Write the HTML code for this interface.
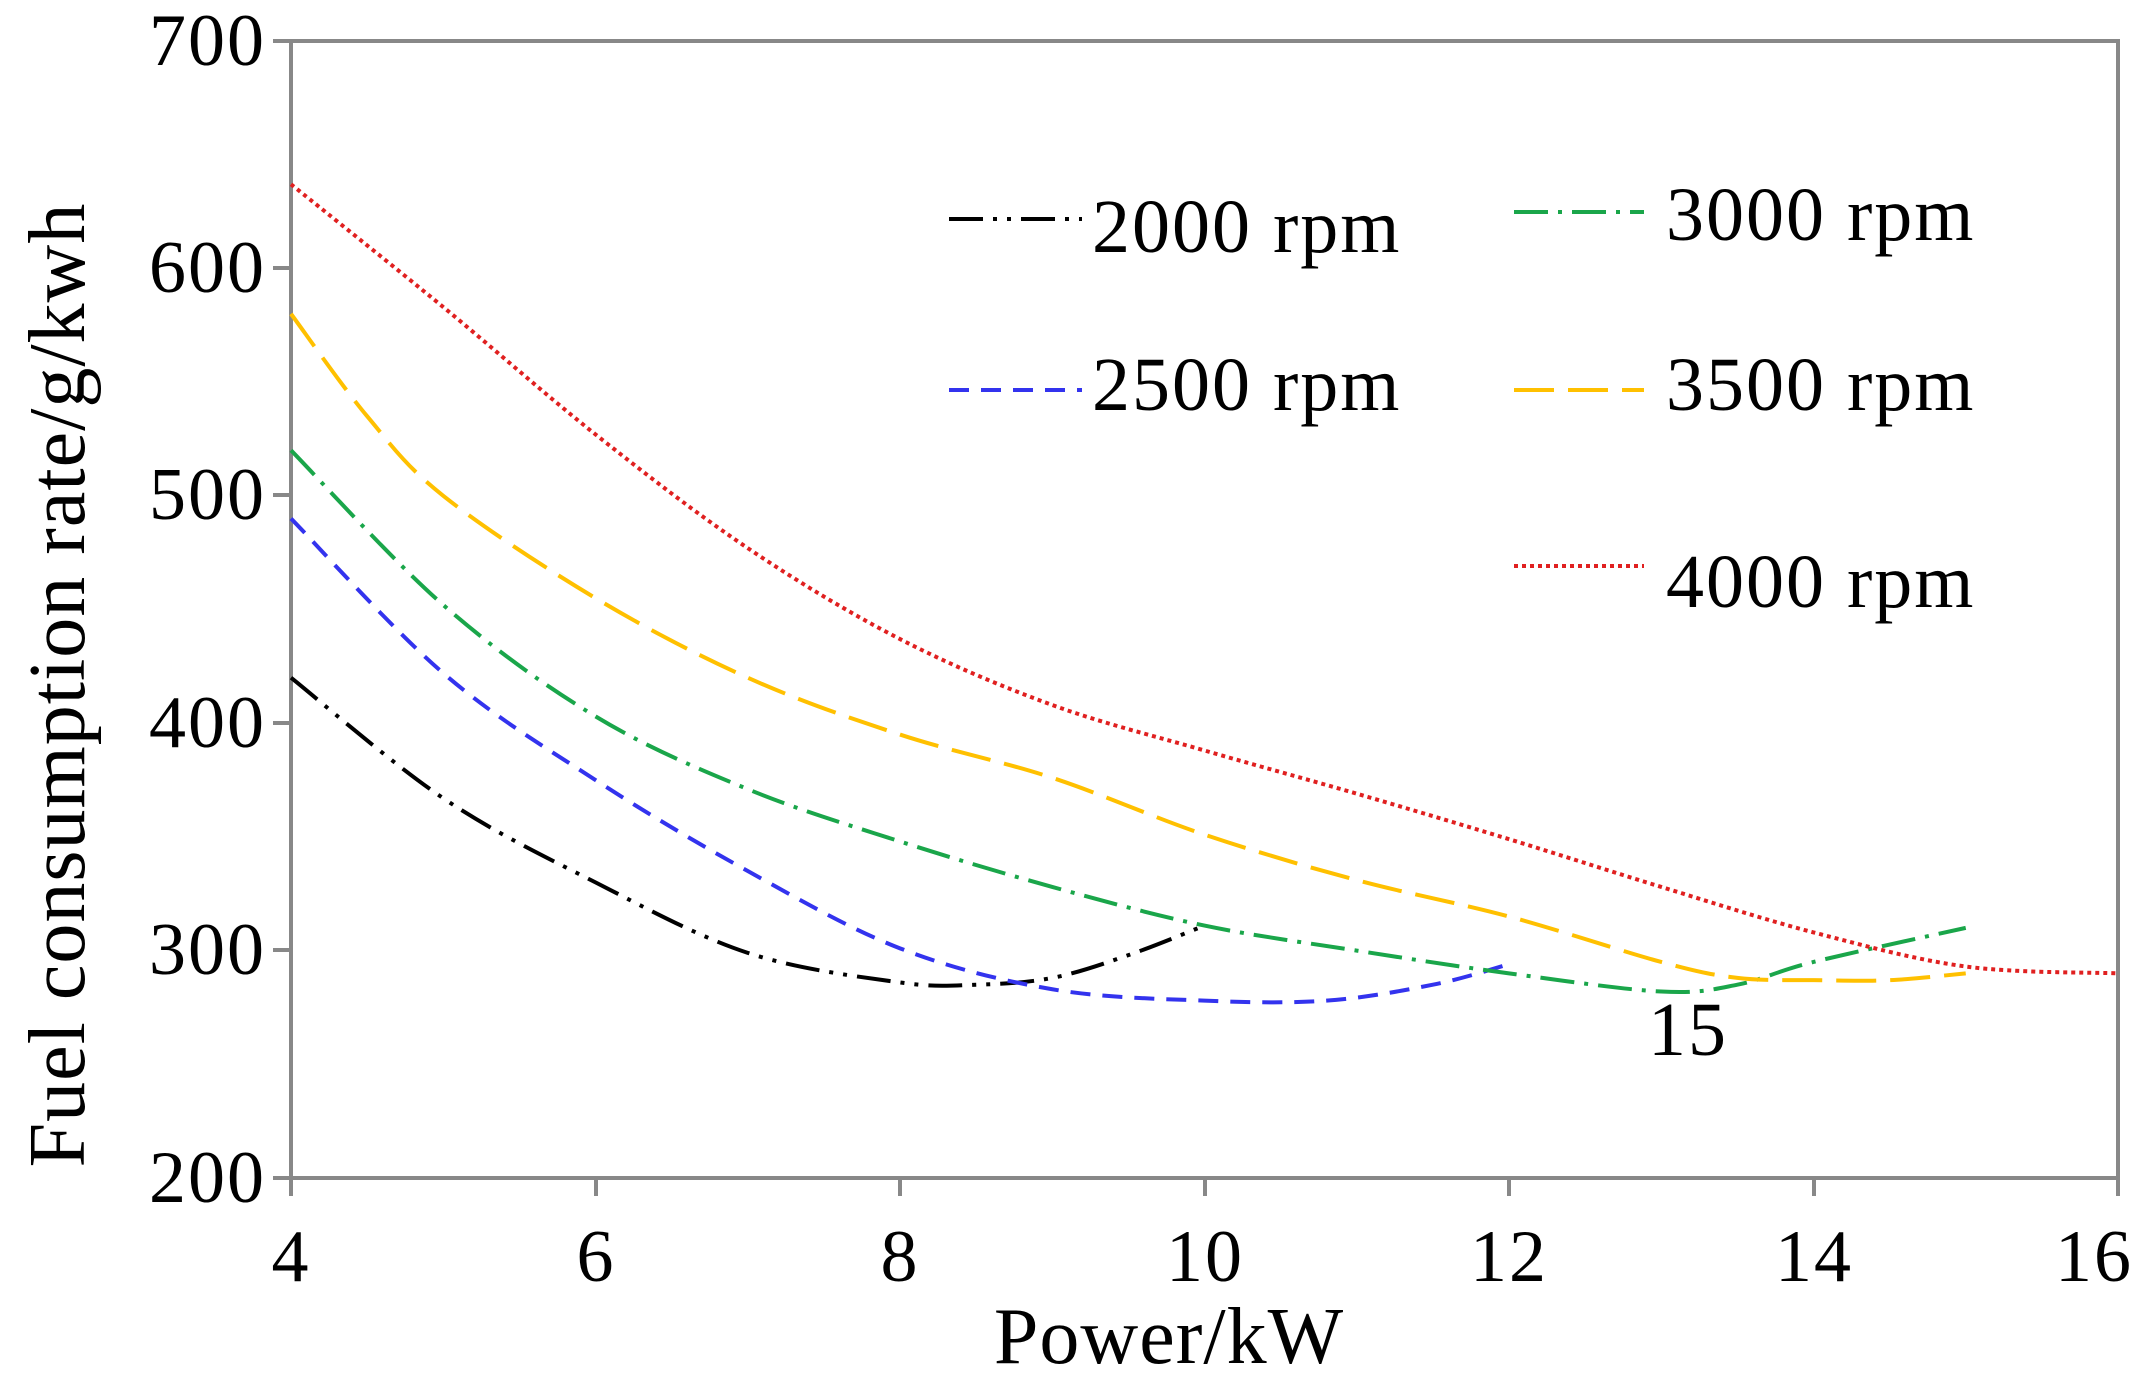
<!DOCTYPE html>
<html><head><meta charset="utf-8"><style>
html,body{margin:0;padding:0;background:#fff}
svg{display:block}
text{font-family:"Liberation Serif",serif;fill:#000}
</style></head><body>
<svg id="s" width="2148" height="1398" xmlns="http://www.w3.org/2000/svg">
<rect x="291" y="41" width="1827" height="1137" fill="none" stroke="#888" stroke-width="4"/>
<g stroke="#888" stroke-width="4">
<line x1="273" y1="1178" x2="291" y2="1178"/><line x1="273" y1="950" x2="291" y2="950"/><line x1="273" y1="723" x2="291" y2="723"/><line x1="273" y1="495" x2="291" y2="495"/><line x1="273" y1="268" x2="291" y2="268"/><line x1="273" y1="41" x2="291" y2="41"/>
<line x1="291" y1="1178" x2="291" y2="1196"/><line x1="596" y1="1178" x2="596" y2="1196"/><line x1="900" y1="1178" x2="900" y2="1196"/><line x1="1205" y1="1178" x2="1205" y2="1196"/><line x1="1509" y1="1178" x2="1509" y2="1196"/><line x1="1814" y1="1178" x2="1814" y2="1196"/><line x1="2118" y1="1178" x2="2118" y2="1196"/>
</g>
<g font-size="74" text-anchor="end" letter-spacing="2">
<text x="266" y="1202">200</text><text x="266" y="974">300</text><text x="266" y="747">400</text><text x="266" y="519">500</text><text x="266" y="292">600</text><text x="266" y="65">700</text>
</g>
<g font-size="74" text-anchor="middle" letter-spacing="2">
<text x="291" y="1281">4</text><text x="596" y="1281">6</text><text x="900" y="1281">8</text><text x="1205" y="1281">10</text><text x="1509" y="1281">12</text><text x="1814" y="1281">14</text><text x="2094" y="1281">16</text>
</g>
<g font-size="80" text-anchor="middle" letter-spacing="1">
<text x="1169" y="1363">Power/kW</text>
<text transform="translate(84,685) rotate(-90)">Fuel consumption rate/g/kwh</text>
</g>
<g font-size="76" letter-spacing="2">
<text x="1092" y="252">2000 rpm</text>
<text x="1092" y="410">2500 rpm</text>
<text x="1666" y="240">3000 rpm</text>
<text x="1666" y="410">3500 rpm</text>
<text x="1666" y="607">4000 rpm</text>
<text x="1648" y="1055">15</text>
</g>
<g stroke-width="4" fill="none">
<line x1="949" y1="219" x2="1082" y2="219" stroke="#000" stroke-dasharray="34 10 4 10 4 10"/>
<line x1="949" y1="390" x2="1082" y2="390" stroke="#3333ee" stroke-dasharray="20 12"/>
<line x1="1514" y1="212" x2="1644" y2="212" stroke="#1aa64a" stroke-dasharray="34 10 4 10"/>
<line x1="1514" y1="390" x2="1644" y2="390" stroke="#ffc000" stroke-dasharray="40 14"/>
<line x1="1514" y1="566" x2="1644" y2="566" stroke="#e02020" stroke-dasharray="4 4"/>
</g>
<g id="curves" stroke-width="4" fill="none"></g>
</svg>
<script>
function X(p){return 291+152.25*(p-4)}function Y(v){return 1178-2.274*(v-200)}
function path(d){var P=d.map(function(a){return[X(a[0]),Y(a[1])]});var s="M"+P[0][0]+","+P[0][1];
for(var i=0;i<P.length-1;i++){var p0=P[i-1]||P[i],p1=P[i],p2=P[i+1],p3=P[i+2]||p2;
s+=" C"+(p1[0]+(p2[0]-p0[0])/6)+","+(p1[1]+(p2[1]-p0[1])/6)+" "+(p2[0]-(p3[0]-p1[0])/6)+","+(p2[1]-(p3[1]-p1[1])/6)+" "+p2[0]+","+p2[1];}return s;}
var S=[
[[[4,420],[5,367],[6,330],[7,299],[8,286],[8.5,285],[9,288],[9.5,298],[10,311]],"#000","34 10 4 10 4 10"],
[[[4,490],[5,422],[6,375],[7,335],[8,301],[9,283],[10,278],[10.8,278],[11.5,285],[12,294]],"#3333ee","20 12"],
[[[4,520],[5,452],[6,403],[7,371],[8,348],[9,328],[10,311],[11,300],[12,290],[13,282],[13.5,285],[14,295],[15,310]],"#1aa64a","34 10 4 10"],
[[[4,580],[4.5,535],[5,500],[6,455],[7,420],[8,395],[9,376],[10,351],[11,331],[12,315],[13,295],[13.5,288],[14,287],[14.5,287],[15,290]],"#ffc000","40 14"],
[[[4,637],[5,583],[6,527],[7,477],[8,437],[9,408],[10,388],[11,369],[12,349],[13,328],[14,308],[15,293],[16,290]],"#e02020","4 4"]];
var g=document.getElementById("curves"),h="";
S.forEach(function(c){h+='<path d="'+path(c[0])+'" stroke="'+c[1]+'" stroke-dasharray="'+c[2]+'"/>';});
g.innerHTML=h;
</script>
</body></html>
